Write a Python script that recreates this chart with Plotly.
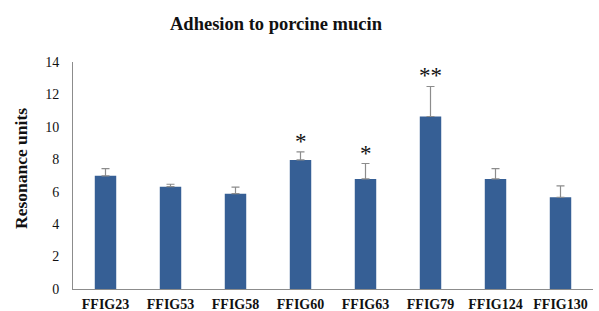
import plotly.graph_objects as go

strains = ["FFIG23", "FFIG53", "FFIG58", "FFIG60", "FFIG63", "FFIG79", "FFIG124", "FFIG130"]
resonance = [6.98, 6.31, 5.88, 7.96, 6.79, 10.64, 6.79, 5.66]
sd = [0.45, 0.15, 0.40, 0.50, 0.95, 1.85, 0.64, 0.70]
significance = ["", "", "", "*", "*", "**", "", ""]
y_ticks = [0, 2, 4, 6, 8, 10, 12, 14]

SERIF = "Liberation Serif, Times New Roman, serif"
L, R, T, B = 73, 6, 62, 22
PW, PH = 599 - L - R, 311 - T - B

fig = go.Figure()
fig.add_trace(go.Bar(
    x=strains, y=resonance,
    marker=dict(color="#365f95", line=dict(width=0)),
    width=0.33,
    error_y=dict(type="data", array=sd, symmetric=False, arrayminus=[0]*len(sd),
                 color="#8c8c8c", thickness=1.2, width=4),
))

for s, v, e, sig in zip(strains, resonance, sd, significance):
    if sig:
        fig.add_annotation(x=s, y=v + e, text=sig, showarrow=False,
                           yanchor="bottom", yshift=-4,
                           font=dict(family=SERIF, size=23, color="#111"))

# chart title
fig.add_annotation(xref="paper", yref="paper", x=(276 - L) / PW, y=(311 - B - 24) / PH,
                   text="<b>Adhesion to porcine mucin</b>", showarrow=False,
                   xanchor="center", yanchor="middle",
                   font=dict(family=SERIF, size=18.5, color="#111"))
# y-axis title
fig.add_annotation(xref="paper", yref="paper", x=(21 - L) / PW, y=(311 - B - 169) / PH,
                   text="<b>Resonance units</b>", showarrow=False, textangle=-90,
                   xanchor="center", yanchor="middle",
                   font=dict(family=SERIF, size=17.5, color="#111"))

fig.update_layout(
    width=599, height=311,
    margin=dict(l=L, r=R, t=T, b=B),
    paper_bgcolor="white", plot_bgcolor="white",
    showlegend=False,
)
fig.update_xaxes(
    showline=True, linecolor="#8c8c8c", linewidth=1, ticks="",
    showgrid=False, range=[-0.5, 7.5], automargin=False,
    tickfont=dict(family=SERIF, size=14, color="#111"),
    ticklabelstandoff=2,
    tickprefix="<b>", ticksuffix="</b>",
)
fig.update_yaxes(
    range=[0, 14], tickvals=y_ticks, showline=True, linecolor="#8c8c8c", linewidth=1,
    ticks="", showgrid=False, zeroline=False, automargin=False,
    tickfont=dict(family=SERIF, size=14, color="#111"),
    ticklabelstandoff=10,
)

fig.write_html("out.html", config={"displayModeBar": False},
               post_script="document.body.style.margin='0';document.body.style.overflow='hidden';")
